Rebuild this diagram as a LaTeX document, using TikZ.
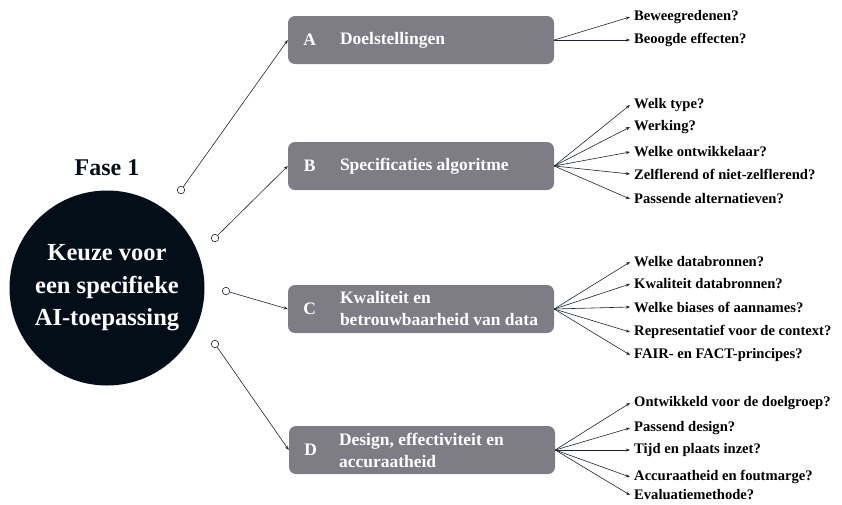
\documentclass[tikz,border=0pt]{standalone}
\usepackage{fontspec}
\setmainfont{Liberation Serif}
\usetikzlibrary{arrows.meta}
\definecolor{faseblue}{HTML}{030E18}
\definecolor{boxgray}{HTML}{7E7D85}
\definecolor{linecol}{HTML}{1B2430}
\begin{document}
\begin{tikzpicture}[x=1pt, y=-1pt,
  every node/.style={font=\bfseries},
  phasebox/.style={rectangle, fill=boxgray, rounded corners=7pt, minimum width=266pt, minimum height=48pt, inner sep=0pt},
  boxletter/.style={text=white, font=\fontsize{17.5}{22}\selectfont\bfseries},
  boxtext/.style={text=white, anchor=west, align=left, inner sep=0pt, font=\fontsize{17.5}{22}\selectfont\bfseries},
  question/.style={anchor=west, inner xsep=4pt, inner ysep=1pt, text=black, font=\fontsize{14.6}{16}\selectfont\bfseries},
  knob/.style={circle, draw=linecol, fill=white, line width=0.6pt, minimum size=7.5pt, inner sep=0pt},
  conn/.style={draw=linecol, line width=0.6pt, -{Stealth[length=4.2pt,width=3.2pt]}}]
\useasboundingbox (0,0) rectangle (842,504);
% central phase
\node[circle, fill=faseblue, minimum size=195pt, inner sep=0pt, text=white, align=center,
  font=\fontsize{24.5}{32.5}\selectfont\bfseries] (fase) at (107,288) {Keuze voor\\een specifieke\\AI-toepassing};
\node[font=\fontsize{24}{28}\selectfont\bfseries, text=faseblue] (titel) at (107,168) {Fase 1};
% the four boxes
\node[phasebox] (A) at (421,40) {};
\node[phasebox] (B) at (421,166) {};
\node[phasebox] (C) at (421,309) {};
\node[phasebox] (D) at (422,450) {};
\foreach \b/\l in {A/A,B/B,C/C,D/D}
  \node[boxletter] (let\b) at ([xshift=22pt]\b.west) {\l};
\node[boxtext] (tA) at ([xshift=52pt]A.west) {Doelstellingen};
\node[boxtext] (tB) at ([xshift=52pt]B.west) {Specificaties algoritme};
\node[boxtext] (tC) at ([xshift=52pt]C.west) {Kwaliteit en\\betrouwbaarheid van data};
\node[boxtext] (tD) at ([xshift=50pt]D.west) {Design, effectiviteit en\\accuraatheid};
% knobs on the circle side
\node[knob] (ka) at (181,190) {};
\node[knob] (kb) at (215,238) {};
\node[knob] (kc) at (226,291) {};
\node[knob] (kd) at (215,344) {};
\draw[conn] (ka) -- (A.west);
\draw[conn] (kb) -- (B.west);
\draw[conn] (kc) -- (C.west);
\draw[conn] (kd) -- (D.west);
% questions per box
\foreach \b/\n/\y/\t in {A/a1/17/Beweegredenen?, A/a2/40/Beoogde effecten?,
    B/b1/105/Welk type?, B/b2/127/Werking?, B/b3/152/Welke ontwikkelaar?, B/b4/174/Zelflerend of niet-zelflerend?, B/b5/199/Passende alternatieven?,
    C/c1/262/Welke databronnen?, C/c2/284/Kwaliteit databronnen?, C/c3/307/Welke biases of aannames?, C/c4/332/Representatief voor de context?, C/c5/355/FAIR- en FACT-principes?,
    D/d1/403/Ontwikkeld voor de doelgroep?, D/d2/428/Passend design?, D/d3/450/Tijd en plaats inzet?, D/d4/477/Accuraatheid en foutmarge?, D/d5/495/Evaluatiemethode?} {
  \node[question] (\n) at (630,\y) {\t};
  \draw[conn] (\b.east) -- (\n.west);
}
\end{tikzpicture}
\end{document}
